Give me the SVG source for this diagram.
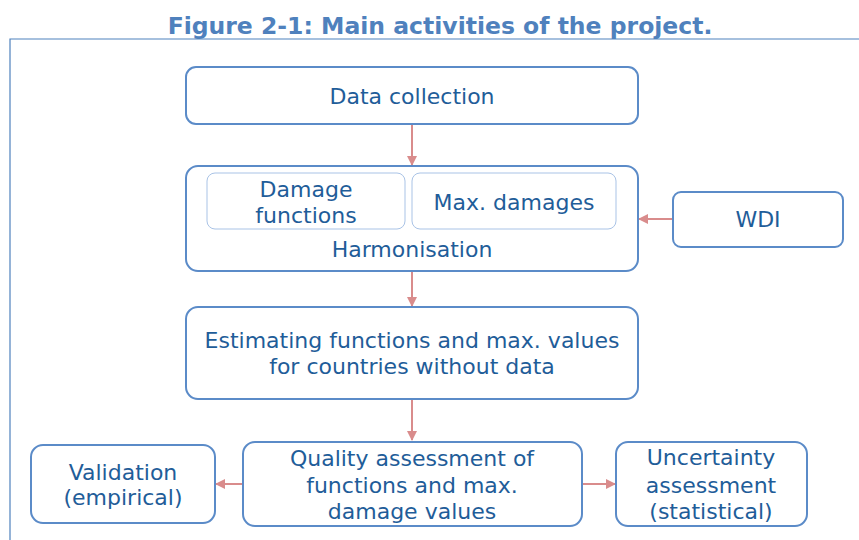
<svg xmlns="http://www.w3.org/2000/svg" width="859" height="540" viewBox="0 0 859 540">
<style>
  .box { fill: #ffffff; stroke: #5b8bc8; stroke-width: 2; }
  .inner { fill: #ffffff; stroke: #a9c3e6; stroke-width: 1; }
  .t { font-family: "DejaVu Sans", Verdana, sans-serif; font-size: 22px; fill: #1f5d99; text-anchor: middle; }
  .title { font-family: "DejaVu Sans", Verdana, sans-serif; font-size: 23.5px; font-weight: bold; fill: #4f81bd; text-anchor: middle; }
  .conn { stroke: #d98c8c; stroke-width: 2; fill: none; marker-end: url(#ah); }
  .frame { stroke: #4f81bd; stroke-width: 1.2; fill: none; }
</style>
<defs>
  <marker id="ah" markerWidth="10" markerHeight="10" refX="9" refY="5" orient="auto" markerUnits="userSpaceOnUse">
    <path d="M0,0 L10,5 L0,10 Z" fill="#d98c8c"/>
  </marker>
</defs>
<rect width="859" height="540" fill="#ffffff"/>
<text class="title" x="440" y="34">Figure 2-1: Main activities of the project.</text>
<path class="frame" d="M859,39 L10,39 L10,540"/>

<g id="connectors">
  <line class="conn" x1="412" y1="124" x2="412" y2="165"/>
  <line class="conn" x1="673" y1="219" x2="639" y2="219"/>
  <line class="conn" x1="412" y1="271" x2="412" y2="306"/>
  <line class="conn" x1="412" y1="399" x2="412" y2="440"/>
  <line class="conn" x1="243" y1="484" x2="216" y2="484"/>
  <line class="conn" x1="582" y1="484" x2="615" y2="484"/>
</g>

<g id="data-collection">
  <rect class="box" x="186" y="67" width="452" height="57" rx="10"/>
  <text class="t" x="412" y="104">Data collection</text>
</g>

<g id="harmonisation">
  <rect class="box" x="186" y="166" width="452" height="105" rx="12"/>
  <text class="t" x="412" y="257">Harmonisation</text>
</g>
<g id="damage-functions">
  <rect class="inner" x="207" y="173" width="198" height="56" rx="8"/>
  <text class="t" x="306" y="197">Damage</text>
  <text class="t" x="306" y="223">functions</text>
</g>
<g id="max-damages">
  <rect class="inner" x="412" y="173" width="204" height="56" rx="8"/>
  <text class="t" x="514" y="210">Max. damages</text>
</g>

<g id="wdi">
  <rect class="box" x="673" y="192" width="170" height="55" rx="8"/>
  <text class="t" x="758" y="227">WDI</text>
</g>

<g id="estimating">
  <rect class="box" x="186" y="307" width="452" height="92" rx="12"/>
  <text class="t" x="412" y="348">Estimating functions and max. values</text>
  <text class="t" x="412" y="374">for countries without data</text>
</g>

<g id="quality">
  <rect class="box" x="243" y="442" width="339" height="84" rx="12"/>
  <text class="t" x="412" y="466">Quality assessment of</text>
  <text class="t" x="412" y="493">functions and max.</text>
  <text class="t" x="412" y="519">damage values</text>
</g>

<g id="validation">
  <rect class="box" x="31" y="445" width="184" height="78" rx="12"/>
  <text class="t" x="123" y="480">Validation</text>
  <text class="t" x="123" y="505">(empirical)</text>
</g>

<g id="uncertainty">
  <rect class="box" x="616" y="442" width="191" height="84" rx="12"/>
  <text class="t" x="711" y="465">Uncertainty</text>
  <text class="t" x="711" y="493">assessment</text>
  <text class="t" x="711" y="519">(statistical)</text>
</g>
</svg>
